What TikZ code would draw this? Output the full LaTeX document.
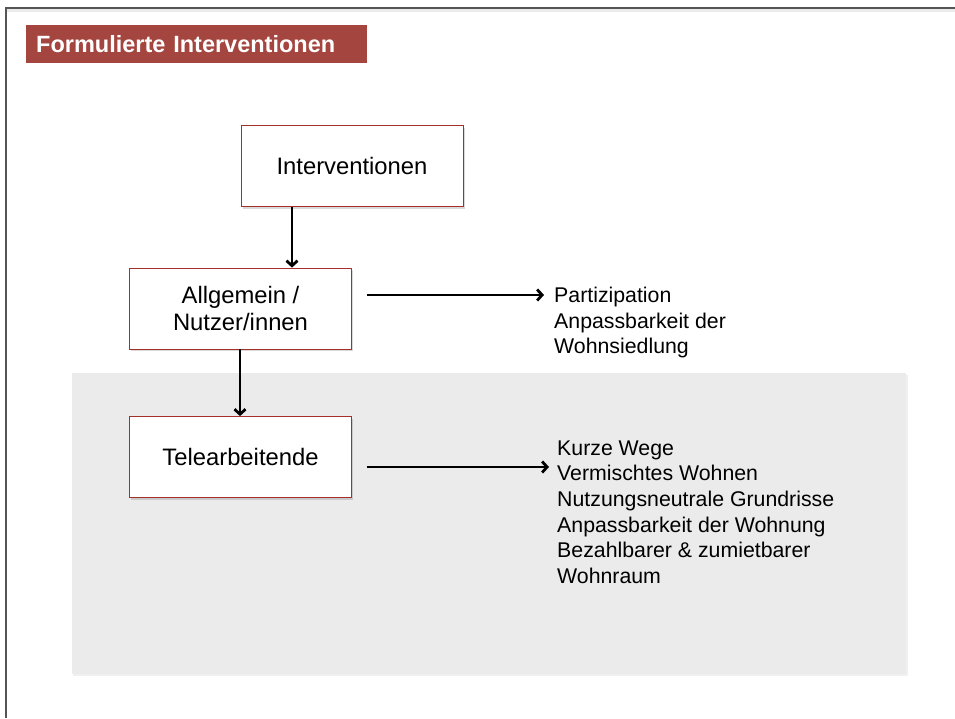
\documentclass[tikz,border=0pt]{standalone}
\usepackage{fontspec}
\setmainfont{Liberation Sans}
\usepackage{tikz}
\usetikzlibrary{arrows.meta,shadows}
\definecolor{titlered}{HTML}{A4463F}
\definecolor{boxred}{HTML}{A3302B}
\definecolor{panelgrey}{HTML}{EBEBEB}
\definecolor{framegrey}{HTML}{555555}
\newcommand{\connect}[2]{
  \draw [-{Straight Barb[length=5pt,width=11pt]},line width=2.8pt,color=black] (#1) to (#2)
}
\tikzset{
  level/.style={draw=boxred, line width=0.8pt, fill=white, inner sep=0pt,
    minimum width=222, minimum height=81, align=center,
    font=\fontsize{23.8}{27.5}\selectfont,
    drop shadow={shadow xshift=1.5pt, shadow yshift=-2pt, opacity=0.25, fill=black!60}},
  list/.style={anchor=west, align=left, inner sep=0pt,
    font=\fontsize{21.3}{25.6}\selectfont}
}

\begin{document}
\begin{tikzpicture}[x=1pt,y=-1pt]
\useasboundingbox (0,0) rectangle (955,718);

% frame
\fill [black!8] (7,9) rectangle (955,12);
\draw [framegrey,line width=1.3pt] (6,718) -- (6,8) -- (955,8);

% title
\node (T) [anchor=west, fill=titlered, text=white, inner sep=10pt, text width=321,
  minimum height=38, align=left, font=\fontsize{23.5}{26}\selectfont\bfseries]
  at (26,44) {Formulierte Interventionen};

% grey panel
\fill [black!6] (73,375) rectangle (908,676);
\fill [panelgrey] (72,373) rectangle (906,674);

% root
\node (B1) [level] at (352,166) {Interventionen};

% second level
\node (B2) [level] at (240.5,308.5) {Allgemein /\\Nutzer/innen};

% third level
\node (B3) [level] at (240.5,457) {Telearbeitende};

% lists
\node (L1) [list] at (554,322.5) {Partizipation\\Anpassbarkeit der\\Wohnsiedlung};
\node (L2) [list] at (557,512) {Kurze Wege\\Vermischtes Wohnen\\Nutzungsneutrale Grundrisse\\Anpassbarkeit der Wohnung\\Bezahlbarer \& zumietbarer\\Wohnraum};

% connect root
\connect {B1.south -| 292,0} {B2.north -| 292,0};

% connect B2
\connect {B2.south -| 240,0} {B3.north -| 240,0};
\connect {[xshift=15pt]B2.east |- 0,295} {[xshift=-10pt]L1.west |- 0,295};

% connect B3
\connect {[xshift=15pt]B3.east |- 0,467} {[xshift=-8pt]L2.west |- 0,467};

\end{tikzpicture}
\end{document}
